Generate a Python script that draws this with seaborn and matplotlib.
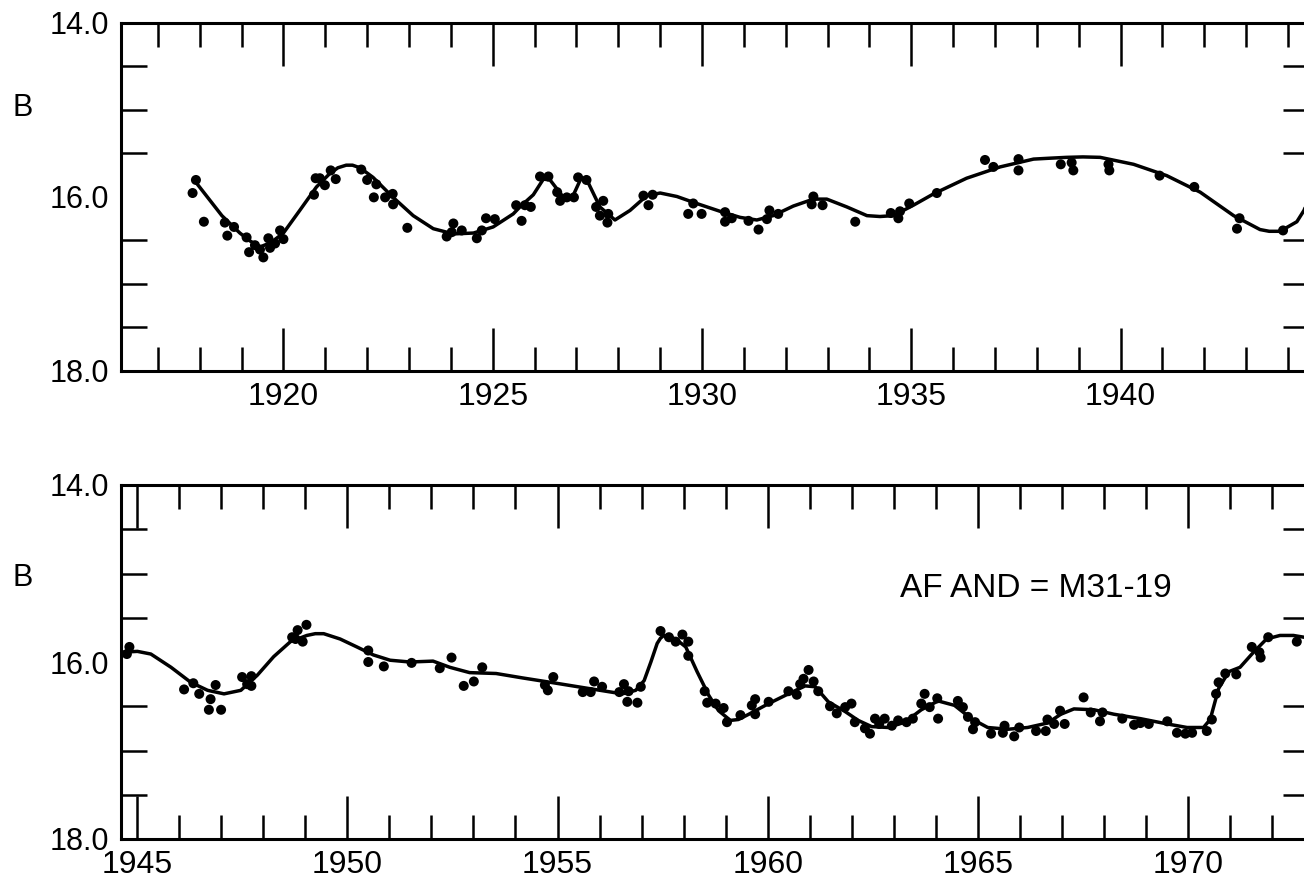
import matplotlib
matplotlib.use("Agg")
import matplotlib.pyplot as plt
from matplotlib.ticker import MultipleLocator, FixedLocator
import seaborn as sns

# ── Data (read off the light curve of AF And) ────────────────────────────────
# upper panel: observations
top_year = [1917.91, 1917.83, 1918.10, 1918.60, 1918.82, 1918.66, 1919.12, 1919.18,
            1919.32, 1919.44, 1919.52, 1919.64, 1919.68, 1919.80, 1919.92, 1920.00,
            1920.73, 1920.77, 1920.87, 1920.99, 1921.13, 1921.25, 1921.86, 1922.00,
            1922.22, 1922.16, 1922.43, 1922.61, 1922.62, 1922.96, 1923.90, 1924.06,
            1924.02, 1924.26, 1924.62, 1924.74, 1924.84, 1925.05, 1925.56, 1925.69,
            1925.77, 1925.91, 1926.13, 1926.33, 1926.54, 1926.61, 1926.77, 1926.94,
            1927.04, 1927.24, 1927.47, 1927.64, 1927.56, 1927.76, 1927.74, 1928.60,
            1928.72, 1928.82, 1929.67, 1929.79, 1929.99, 1930.55, 1930.55, 1930.71,
            1931.11, 1931.35, 1931.61, 1931.55, 1931.82, 1932.62, 1932.66, 1932.88,
            1933.66, 1934.51, 1934.69, 1934.73, 1934.95, 1935.61, 1936.76, 1936.96,
            1937.56, 1937.56, 1938.57, 1938.87, 1938.83, 1939.73, 1939.71, 1940.93,
            1941.76, 1942.78, 1942.84, 1943.88]
top_mag = [15.81, 15.96, 16.29, 16.30, 16.35, 16.45, 16.47, 16.64,
           16.56, 16.61, 16.70, 16.48, 16.59, 16.54, 16.39, 16.49,
           15.98, 15.79, 15.79, 15.87, 15.70, 15.80, 15.69, 15.81,
           15.86, 16.01, 16.01, 15.97, 16.09, 16.36, 16.46, 16.31,
           16.41, 16.39, 16.48, 16.39, 16.25, 16.26, 16.10, 16.28,
           16.10, 16.12, 15.77, 15.77, 15.95, 16.05, 16.01, 16.01,
           15.78, 15.81, 16.12, 16.05, 16.22, 16.20, 16.30, 15.99,
           16.10, 15.98, 16.20, 16.08, 16.20, 16.18, 16.29, 16.25,
           16.28, 16.38, 16.16, 16.26, 16.20, 16.09, 16.00, 16.10,
           16.29, 16.19, 16.25, 16.17, 16.08, 15.96, 15.58, 15.66,
           15.57, 15.70, 15.63, 15.70, 15.61, 15.70, 15.63, 15.76,
           15.89, 16.37, 16.25, 16.39]

# upper panel: smooth mean curve
top_fit_year = [1917.93, 1918.53, 1918.96, 1919.20, 1919.44, 1919.70, 1920.00, 1920.39,
                1920.79, 1921.10, 1921.30, 1921.50, 1921.65, 1921.83, 1922.14, 1922.62,
                1923.10, 1923.58, 1924.06, 1924.54, 1925.01, 1925.49, 1925.65, 1925.97,
                1926.21, 1926.37, 1926.69, 1926.92, 1927.12, 1927.28, 1927.56, 1927.92,
                1928.28, 1928.68, 1929.00, 1929.40, 1929.87, 1930.43, 1930.91, 1931.31,
                1931.70, 1932.18, 1932.66, 1932.98, 1933.46, 1933.94, 1934.25, 1934.57,
                1935.05, 1935.53, 1936.32, 1937.12, 1937.92, 1938.30, 1938.71, 1939.10,
                1939.51, 1940.31, 1941.10, 1941.90, 1942.70, 1943.33, 1943.55, 1943.81,
                1944.21, 1944.38, 1944.50]
top_fit_mag = [15.85, 16.22, 16.42, 16.51, 16.58, 16.53, 16.42, 16.16,
               15.89, 15.74, 15.67, 15.64, 15.64, 15.67, 15.78, 16.01,
               16.22, 16.37, 16.43, 16.42, 16.35, 16.20, 16.12, 15.98,
               15.80, 15.81, 16.01, 15.99, 15.78, 15.84, 16.12, 16.27,
               16.16, 15.99, 15.96, 16.00, 16.08, 16.17, 16.24, 16.27,
               16.22, 16.11, 16.03, 16.03, 16.12, 16.22, 16.23, 16.22,
               16.10, 15.97, 15.79, 15.66, 15.57, 15.56, 15.55, 15.545,
               15.55, 15.63, 15.76, 15.95, 16.22, 16.38, 16.40, 16.40,
               16.29, 16.16, 16.02]

# lower panel: observations
bot_year = [1944.82, 1944.76, 1946.12, 1946.34, 1946.48, 1946.75, 1946.87, 1946.71,
            1947.00, 1947.50, 1947.62, 1947.72, 1947.72, 1948.69, 1948.82, 1949.03,
            1948.94, 1948.77, 1950.50, 1950.50, 1950.87, 1951.53, 1952.20, 1952.48,
            1952.77, 1953.01, 1953.21, 1954.70, 1954.77, 1954.90, 1955.60, 1955.79,
            1955.87, 1956.06, 1956.58, 1956.47, 1956.69, 1956.66, 1956.90, 1956.98,
            1957.45, 1957.65, 1957.81, 1957.97, 1958.11, 1958.11, 1958.50, 1958.56,
            1958.76, 1958.95, 1959.03, 1959.35, 1959.62, 1959.70, 1959.70, 1960.02,
            1960.49, 1960.69, 1960.77, 1960.97, 1960.85, 1961.09, 1961.20, 1961.48,
            1961.64, 1961.84, 1961.99, 1962.07, 1962.31, 1962.43, 1962.55, 1962.65,
            1962.78, 1962.95, 1963.10, 1963.30, 1963.45, 1963.65, 1963.73, 1964.03,
            1964.05, 1963.85, 1964.52, 1964.64, 1964.76, 1964.93, 1964.88, 1965.31,
            1965.63, 1965.59, 1965.86, 1965.98, 1966.38, 1966.61, 1966.65, 1966.81,
            1966.95, 1967.06, 1967.51, 1967.68, 1967.90, 1967.96, 1968.43, 1968.71,
            1968.86, 1969.06, 1969.50, 1969.73, 1969.93, 1970.09, 1970.44, 1970.56,
            1970.66, 1970.72, 1970.88, 1971.14, 1971.51, 1971.72, 1971.69, 1971.90,
            1972.58]
bot_mag = [15.83, 15.91, 16.31, 16.24, 16.36, 16.42, 16.26, 16.54,
           16.54, 16.17, 16.25, 16.16, 16.27, 15.72, 15.64, 15.58,
           15.77, 15.74, 15.87, 16.00, 16.05, 16.01, 16.07, 15.95,
           16.27, 16.22, 16.06, 16.26, 16.32, 16.17, 16.34, 16.34,
           16.22, 16.28, 16.25, 16.34, 16.33, 16.45, 16.46, 16.28,
           15.65, 15.72, 15.77, 15.69, 15.77, 15.93, 16.33, 16.46,
           16.47, 16.52, 16.68, 16.60, 16.49, 16.42, 16.59, 16.45,
           16.33, 16.37, 16.25, 16.09, 16.19, 16.22, 16.33, 16.50,
           16.58, 16.51, 16.47, 16.68, 16.75, 16.81, 16.64, 16.70,
           16.64, 16.72, 16.66, 16.68, 16.64, 16.47, 16.36, 16.41,
           16.64, 16.51, 16.44, 16.51, 16.62, 16.68, 16.76, 16.81,
           16.72, 16.80, 16.84, 16.74, 16.78, 16.78, 16.65, 16.70,
           16.55, 16.70, 16.40, 16.57, 16.67, 16.57, 16.64, 16.71,
           16.69, 16.70, 16.67, 16.80, 16.81, 16.80, 16.78, 16.65,
           16.36, 16.23, 16.13, 16.14, 15.83, 15.95, 15.89, 15.72,
           15.77]

# lower panel: smooth mean curve
bot_fit_year = [1944.62, 1945.01, 1945.33, 1945.81, 1946.28, 1946.68, 1947.07, 1947.47,
                1947.86, 1948.25, 1948.65, 1949.04, 1949.24, 1949.44, 1949.83, 1950.23,
                1950.62, 1951.02, 1951.49, 1952.04, 1952.44, 1952.91, 1953.54, 1954.17,
                1954.97, 1955.75, 1956.54, 1956.86, 1957.06, 1957.22, 1957.37, 1957.45,
                1957.53, 1957.81, 1958.05, 1958.32, 1958.60, 1958.83, 1959.11, 1959.30,
                1959.55, 1960.02, 1960.49, 1960.89, 1961.13, 1961.44, 1961.84, 1962.15,
                1962.47, 1962.86, 1963.26, 1963.65, 1964.05, 1964.44, 1964.84, 1965.23,
                1965.71, 1966.18, 1966.65, 1966.97, 1967.28, 1967.76, 1968.23, 1968.86,
                1969.50, 1969.97, 1970.36, 1970.52, 1970.72, 1970.96, 1971.23, 1971.55,
                1971.86, 1972.18, 1972.50, 1972.75, 1972.87]
bot_fit_mag = [15.89, 15.88, 15.91, 16.06, 16.23, 16.32, 16.36, 16.32,
               16.15, 15.94, 15.77, 15.70, 15.68, 15.68, 15.74, 15.83,
               15.92, 15.98, 16.00, 15.99, 16.06, 16.12, 16.13, 16.18,
               16.24, 16.30, 16.36, 16.32, 16.21, 16.00, 15.79, 15.73,
               15.70, 15.74, 15.83, 16.11, 16.38, 16.55, 16.66, 16.65,
               16.59, 16.47, 16.36, 16.27, 16.28, 16.45, 16.56, 16.66,
               16.73, 16.74, 16.68, 16.54, 16.44, 16.49, 16.64, 16.74,
               16.76, 16.74, 16.69, 16.59, 16.53, 16.54, 16.59, 16.64,
               16.70, 16.74, 16.74, 16.65, 16.30, 16.11, 16.06, 15.89,
               15.74, 15.70, 15.70, 15.72, 15.73]

mag_ticks = [14.0, 16.0, 18.0]
mag_labels = ["14.0", "16.0", "18.0"]
mag_minor = [14.5, 15.0, 15.5, 16.5, 17.0, 17.5]

# ── Style ─────────────────────────────────────────────────────────────────────
INK = "black"
sns.set_theme(style="white")
plt.rcParams["font.family"] = ["Liberation Sans", "DejaVu Sans"]


def draw_panel(ax, px, py, cx, cy, xlim, xpad):
    sns.lineplot(x=cx, y=cy, ax=ax, color=INK, linewidth=2.5,
                 sort=False, estimator=None)
    sns.scatterplot(x=px, y=py, ax=ax, color=INK, s=52,
                    edgecolor="none", zorder=3)

    ax.set_xlim(*xlim)
    ax.set_ylim(18.0, 14.0)
    ax.set_xlabel("")
    ax.set_ylabel("")

    ax.xaxis.set_major_locator(MultipleLocator(5))
    ax.xaxis.set_minor_locator(MultipleLocator(1))
    ax.tick_params(axis="x", which="major", direction="in", length=31,
                   width=1.8, top=True, bottom=True, pad=xpad, labelsize=23,
                   labelcolor=INK, color=INK)
    ax.tick_params(axis="x", which="minor", direction="in", length=17,
                   width=1.8, top=True, bottom=True, color=INK)

    ax.set_yticks(mag_ticks)
    ax.set_yticklabels(mag_labels)
    ax.yaxis.set_minor_locator(FixedLocator(mag_minor))
    ax.tick_params(axis="y", which="major", length=0, pad=8.5,
                   labelsize=22, labelcolor=INK)
    ax.tick_params(axis="y", which="minor", direction="in", length=18.5,
                   width=1.8, left=True, right=True, color=INK)

    for sp in ax.spines.values():
        sp.set_visible(True)
        sp.set_color(INK)
        sp.set_linewidth(2.2)
    ax.grid(False)


W, H = 1304, 881
fig = plt.figure(figsize=(W / 100, H / 100), dpi=100)
fig.patch.set_facecolor("white")

ax_top = fig.add_axes([121 / W, 1 - 370.5 / H, 1188 / W, 348 / H])
ax_bot = fig.add_axes([121 / W, 1 - 839 / H, 1188 / W, 354 / H])

draw_panel(ax_top, top_year, top_mag, top_fit_year, top_fit_mag, (1916.12, 1944.50), 8.5)
draw_panel(ax_bot, bot_year, bot_mag, bot_fit_year, bot_fit_mag, (1944.62, 1972.87), 8.0)

ax_bot.text(1966.38, 15.17, "AF AND = M31-19", ha="center", va="center",
            fontsize=24, color=INK)

fig.text(23 / W, 1 - 108 / H, "B", ha="center", va="center", fontsize=22, color=INK)
fig.text(23 / W, 1 - 578 / H, "B", ha="center", va="center", fontsize=22, color=INK)

fig.savefig("out.png", dpi=100, facecolor="white")
plt.close(fig)
